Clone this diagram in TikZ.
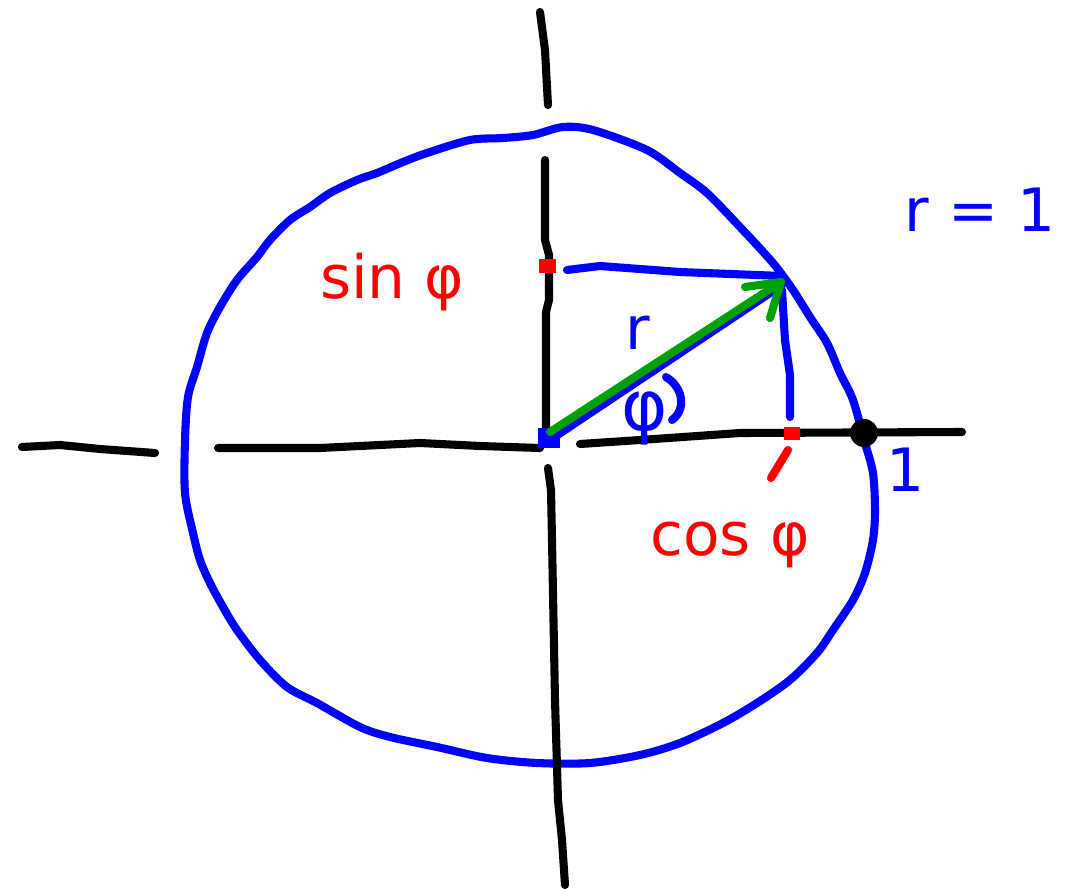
\documentclass[tikz,border=0pt]{standalone}
\usepackage{fontspec}
\setmainfont{DejaVu Sans}
\definecolor{pblue}{RGB}{0,0,255}
\definecolor{pred}{RGB}{255,0,0}
\definecolor{pgreen}{RGB}{0,160,0}
\begin{document}
\begin{tikzpicture}[x=0.02cm,y=-0.02cm,
  pen/.style={line width=4.6pt,line cap=round,line join=round},
  axis/.style={pen,black},
  bpen/.style={pen,pblue},
  lbl/.style={inner sep=0pt,font=\fontsize{34}{40}\selectfont}]
\useasboundingbox (0,0) rectangle (1080,889);
% circle
\draw[bpen] plot[smooth cycle,tension=0.5] coordinates {
 (185,440) (185,493) (193,533) (200,560) (210,583) (223,607) (237,630) (260,660)
 (287,687) (317,703) (360,727) (390,737) (437,747) (487,758) (537,763) (590,763)
 (640,755) (680,743) (723,723) (757,703) (790,680) (817,653) (833,630) (853,600)
 (865,573) (873,540) (875,510) (873,473) (865,443) (853,400) (840,373) (827,343)
 (810,317) (793,290) (773,263) (740,227) (707,193) (680,173) (647,150) (593,130)
 (563,127) (533,135) (503,138) (470,140) (427,153) (403,162) (377,173) (357,180)
 (330,193) (310,207) (290,220) (270,240) (257,257) (237,280) (220,307) (207,333)
 (197,367) (188,397)};
% axes
\draw[axis] (540,12) -- (545,50) -- (548,105);
\draw[axis] (545,160) -- (545,240) -- (549,255) -- (549,300) -- (546,312) -- (546,440);
\draw[axis] (548,468) -- (551,490) -- (552,540) -- (555,700) -- (558,800) -- (562,840) -- (565,885);
\draw[axis] (22,447) -- (60,445) -- (100,449) -- (155,453);
\draw[axis] (218,448) -- (320,448) -- (380,445) -- (420,443) -- (480,446) -- (540,448);
\draw[axis] (580,444) -- (640,440) -- (740,433) -- (962,432);
% point (1,0)
\fill[black] (864,433) circle (14);
% projection lines
\draw[bpen] (567,270) -- (600,266) -- (680,272) -- (782,276);
\draw[bpen] (782,290) -- (785,340) -- (790,375) -- (790,417);
% r vector (blue) and arrow (green)
\draw[bpen] (550,440) -- (782,285);
\fill[pblue] (538,428) rectangle (560,448);
\coordinate (O) at (550,432);
\coordinate (P) at (781,282);
\draw[pen,pgreen] (O) -- (P);
\draw[pen,pgreen] (745,287) -- (P) -- (770,318);
% red marks
\fill[pred] (539,259) rectangle (556,273);
\fill[pred] (784,427) rectangle (800,440);
\draw[pen,pred] (788,450) -- (771,478);
% angle arc
\draw[bpen] (666,377) .. controls (684,388) and (686,410) .. (672,420);
% labels
\node[lbl,text=pred] (sin) at (392,282) {sin φ};
\node[lbl,text=pred] (cos) at (730,545) {cos φ};
\node[lbl,text=pblue] (r) at (638,333) {r};
\node[lbl,text=pblue,font=\fontsize{40}{46}\selectfont] (phi) at (645,418) {φ};
\node[lbl,text=pblue] (one) at (905,470) {1};
\node[lbl,text=pblue] (req) at (980,210) {r = 1};
\end{tikzpicture}
\end{document}
